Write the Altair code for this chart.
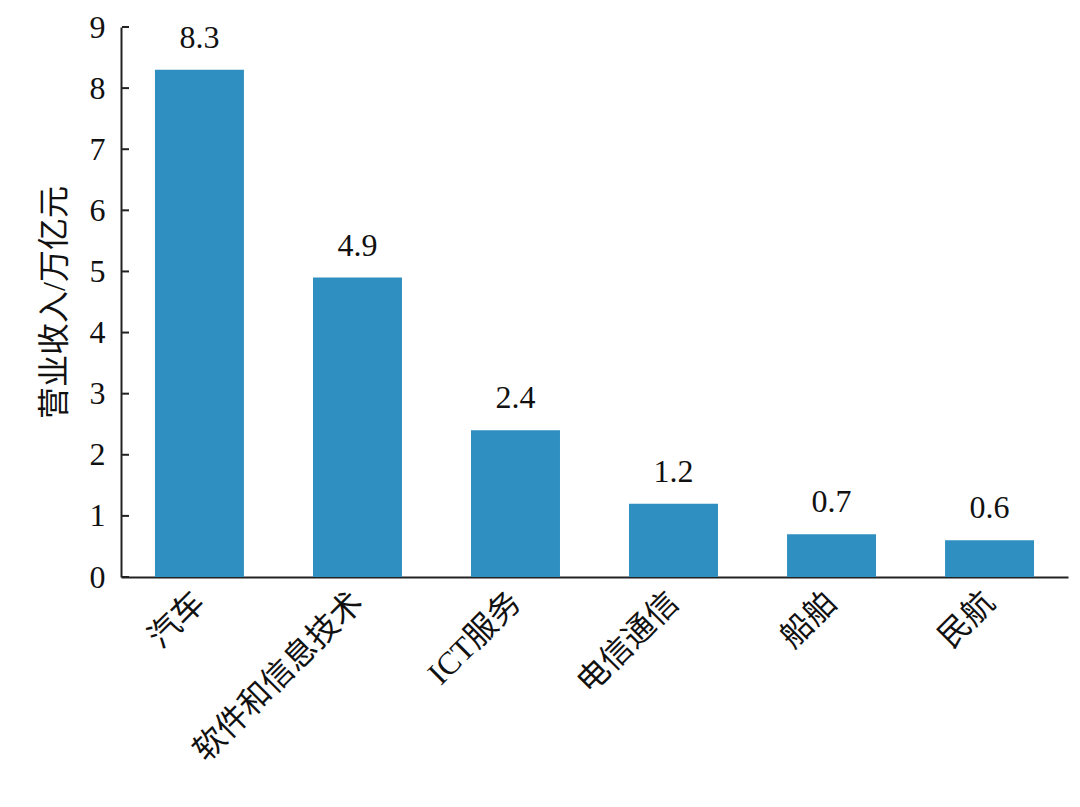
import altair as alt
import pandas as pd

categories = ["汽车", "软件和信息技术", "ICT服务", "电信通信", "船舶", "民航"]
values = [8.3, 4.9, 2.4, 1.2, 0.7, 0.6]
y_ticks = [0, 1, 2, 3, 4, 5, 6, 7, 8, 9]

df = pd.DataFrame({"cat": categories, "val": values})
df["label"] = [f"{v:.1f}" for v in values]
ticks_df = pd.DataFrame({"val": y_ticks})

FONT = "Liberation Serif, Noto Sans CJK SC"
COLOR = "#2E8FC0"
FS = 32
W, H = 947, 550
YTITLE = "营业收入/万亿元"

yscale = alt.Scale(domain=[0, 9], nice=False)
yaxis = alt.Axis(values=y_ticks, format="d", grid=False, ticks=False,
                 labelFontSize=FS, labelFont=FONT, labelColor="#111",
                 labelPadding=16, domainColor="#222", domainWidth=2,
                 titleFontSize=FS, titleFont=FONT, titleFontWeight="normal",
                 titleColor="#111", titlePadding=18)

x = alt.X("cat:N", sort=categories, title=None,
          scale=alt.Scale(paddingInner=0.437, paddingOuter=0.215),
          axis=alt.Axis(labelAngle=-45, labelAlign="right", labelBaseline="middle",
                        labelFontSize=FS, labelFont=FONT, labelColor="#111",
                        labelPadding=20, ticks=False, domainColor="#222",
                        domainWidth=2, labelLimit=400))
y = alt.Y("val:Q", title=YTITLE, scale=yscale, axis=yaxis)

bars = alt.Chart(df).mark_bar(color=COLOR).encode(x=x, y=y)
text = alt.Chart(df).mark_text(fontSize=FS, font=FONT, color="#111", dy=-22,
                               baseline="alphabetic").encode(x=x, y=y, text="label:N")
inner = alt.Chart(ticks_df).mark_rule(color="#222", strokeWidth=2).encode(
    y=alt.Y("val:Q", title=YTITLE, scale=yscale, axis=yaxis),
    x=alt.value(1), x2=alt.value(8))

chart = alt.layer(bars, text, inner).properties(
    width=W, height=H,
    autosize=alt.AutoSizeParams(type="none"),
    padding={"left": 113, "top": 19, "right": 4, "bottom": 230},
    background="white",
).configure_view(stroke=None, strokeWidth=0)

chart.save("out.html", embed_options={"renderer": "svg", "actions": False})
